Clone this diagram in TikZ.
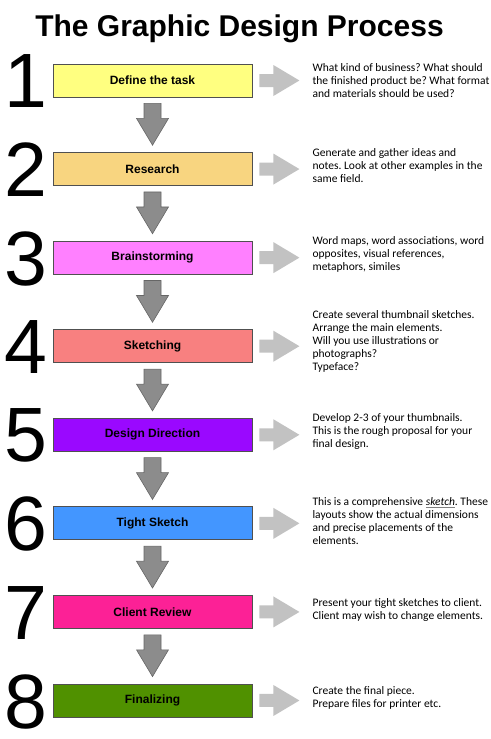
\documentclass[tikz,border=0pt]{standalone}
\usepackage{fontspec}
\setmainfont{Liberation Sans}
\newfontfamily\notefont{Carlito}
\usetikzlibrary{calc}
\frenchspacing

\definecolor{stepA}{HTML}{FFFF80}
\definecolor{stepB}{HTML}{F8D580}
\definecolor{stepC}{HTML}{FF80FF}
\definecolor{stepD}{HTML}{F88080}
\definecolor{stepE}{HTML}{9A08FF}
\definecolor{stepF}{HTML}{4396FF}
\definecolor{stepG}{HTML}{FC2196}
\definecolor{stepH}{HTML}{509100}
\definecolor{boxline}{HTML}{505050}
\definecolor{downgray}{HTML}{8C8C8C}
\definecolor{downline}{HTML}{666666}
\definecolor{sidegray}{HTML}{C2C2C2}

\tikzset{
  stepbox/.style={draw=boxline, line width=0.8pt, minimum width=199pt, minimum height=33pt,
    inner sep=0pt, text=black, font=\fontsize{12}{14}\selectfont\bfseries},
  stepnum/.style={inner sep=0pt, font=\fontsize{77}{77}\selectfont},
  note/.style={inner sep=0pt, anchor=west, align=left, font=\notefont\fontsize{11.5}{13}\selectfont},
  downarrow/.style={fill=downgray, draw=downline, line width=0.6pt},
  sidearrow/.style={fill=sidegray},
}

\begin{document}
\begin{tikzpicture}[x=1pt,y=-1pt]
    \useasboundingbox (0,0) rectangle (490,739);

    % Title
    \node[anchor=base, font=\fontsize{30}{36}\selectfont\bfseries] (title) at (239.5,36) {The Graphic Design Process};

    % Steps and their numbers
    \foreach \i/\name/\col in {1/Define the task/stepA, 2/Research/stepB, 3/Brainstorming/stepC,
        4/Sketching/stepD, 5/Design Direction/stepE, 6/Tight Sketch/stepF,
        7/Client Review/stepG, 8/Finalizing/stepH} {
        \node[stepbox, fill=\col] (b\i) at (152.5,{80.5+88.57*(\i-1)}) {\name};
        \node[stepnum] (n\i) at ($(b\i.west)+(-27,1)$) {\i};
    }

    % Arrows between the steps
    \foreach \i [count=\j from 2] in {1,...,7} {
        \draw[downarrow] ($(b\i.south)+(-8.5,6)$) -- ($(b\i.south)+(8.5,6)$)
            -- ($(b\i.south)+(8.5,21)$) -- ($(b\i.south)+(16,21)$) -- ($(b\j.north)+(0,-7)$)
            -- ($(b\i.south)+(-16,21)$) -- ($(b\i.south)+(-8.5,21)$) -- cycle;
    }

    % Notes
    \node[note] (d1) at ($(b1.east)+(60,0)$) {What kind of business? What should\\the finished product be? What format\\and materials should be used?};
    \node[note] (d2) at ($(b2.east)+(60,-4)$) {Generate and gather ideas and\\notes. Look at other examples in the\\same field.};
    \node[note] (d3) at ($(b3.east)+(60,-3)$) {Word maps, word associations, word\\opposites, visual references,\\metaphors, similes};
    \node[note] (d4) at ($(b4.east)+(60,-5)$) {Create several thumbnail sketches.\\Arrange the main elements.\\Will you use illustrations or\\photographs?\\Typeface?};
    \node[note] (d5) at ($(b5.east)+(60,-3)$) {Develop 2-3 of your thumbnails.\\This is the rough proposal for your\\final design.};
    \node[note] (d6) at ($(b6.east)+(60,-2)$) {This is a comprehensive {\color{gray}\underline{\color{black}\textit{sketch}}}. These\\layouts show the actual dimensions\\and precise placements of the\\elements.};
    \node[note] (d7) at ($(b7.east)+(60,-2)$) {Present your tight sketches to client.\\Client may wish to change elements.};
    \node[note] (d8) at ($(b8.east)+(60,-3)$) {Create the final piece.\\Prepare files for printer etc.};

    % Arrows to the notes
    \foreach \i in {1,...,8} {
        \fill[sidearrow] ($(b\i.east)+(7,-6.5)$) -- ($(b\i.east)+(21,-6.5)$) -- ($(b\i.east)+(21,-15.5)$)
            -- ($(b\i.east)+(47,0)$) -- ($(b\i.east)+(21,15.5)$) -- ($(b\i.east)+(21,6.5)$)
            -- ($(b\i.east)+(7,6.5)$) -- cycle;
    }
\end{tikzpicture}
\end{document}
